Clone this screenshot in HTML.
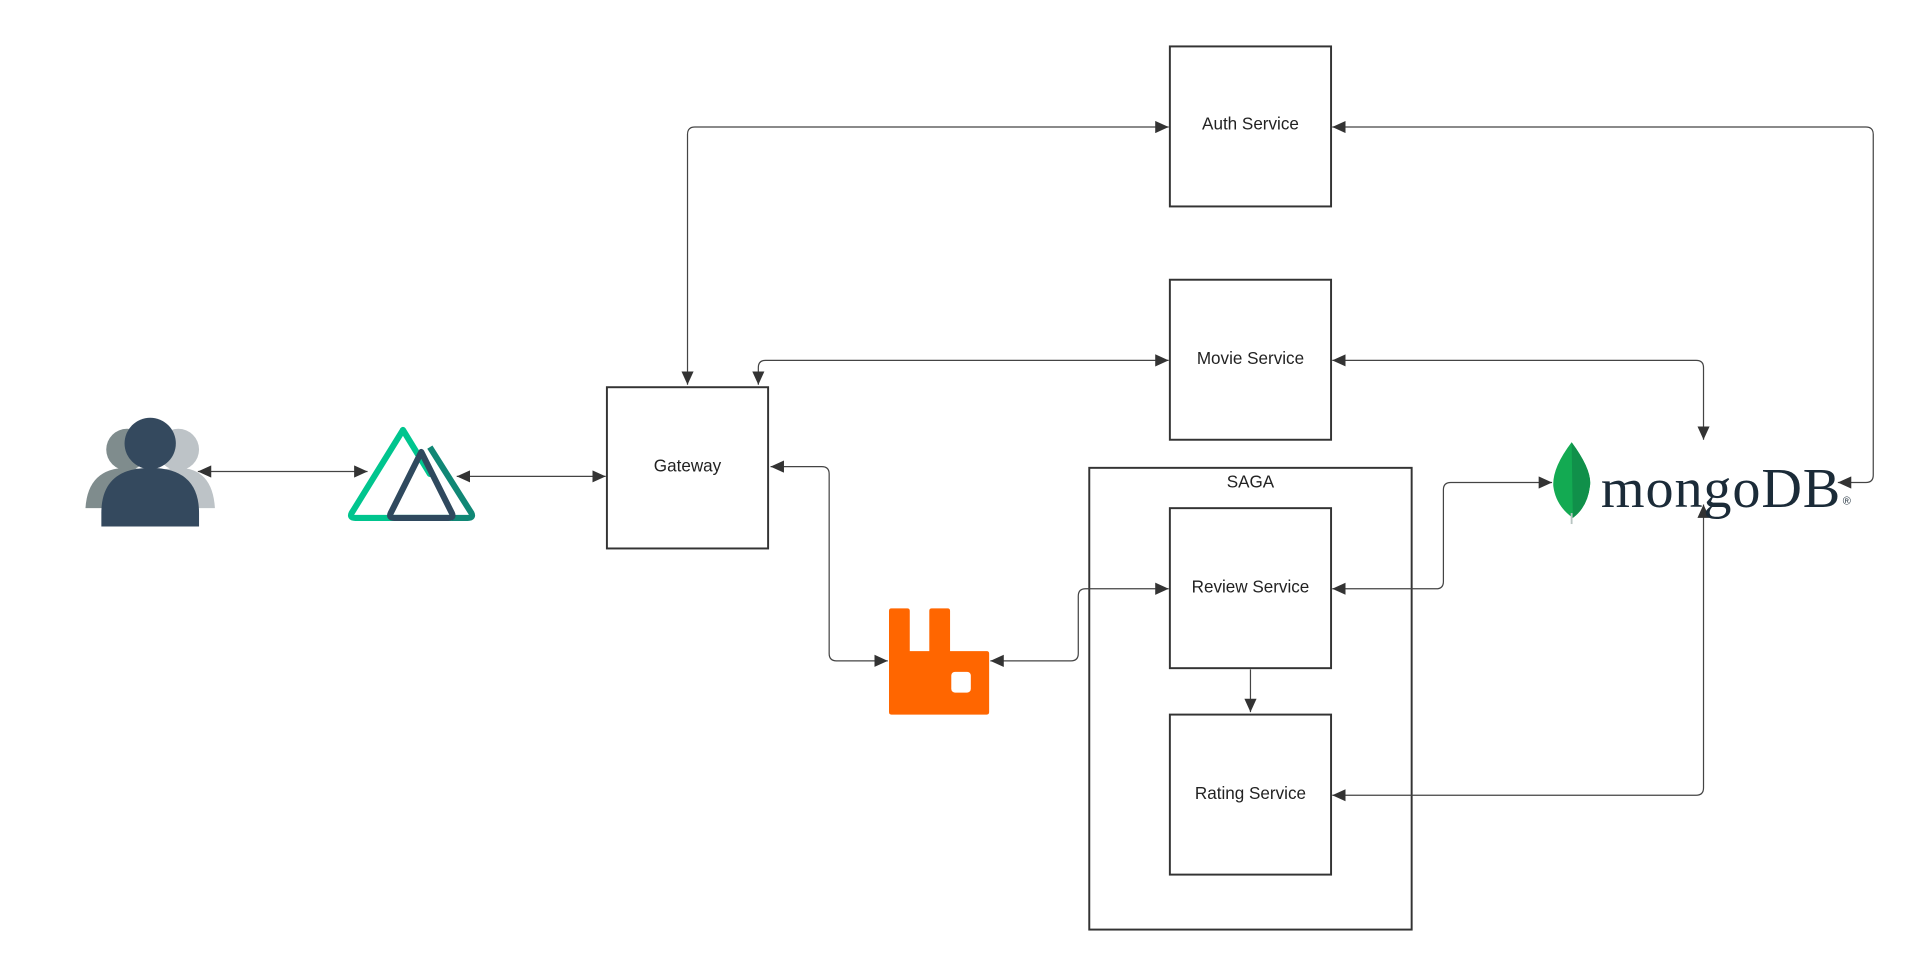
<!DOCTYPE html>
<html><head><meta charset="utf-8"><style>
html,body{margin:0;padding:0;background:#fff;width:1905px;height:965px;overflow:hidden}
text{font-family:"Liberation Sans",sans-serif;fill:#222}
</style></head><body>
<svg width="1905" height="965" viewBox="0 0 1560 790" preserveAspectRatio="none" xmlns="http://www.w3.org/2000/svg">
<defs>
<marker id="a" markerWidth="12" markerHeight="10" refX="11" refY="5" orient="auto-start-reverse" markerUnits="userSpaceOnUse">
<path d="M0,0 L11,5 L0,10 z" fill="#333"/></marker>
</defs>
<g fill="none" stroke="#333" stroke-width="1.6">
<rect x="958" y="38" width="132" height="131"/>
<rect x="958" y="229" width="132" height="131"/>
<rect x="497" y="317" width="132" height="132"/>
<rect x="892" y="383" width="264" height="378"/>
<rect x="958" y="416" width="132" height="131"/>
<rect x="958" y="585" width="132" height="131"/>
</g>
<g font-size="14" text-anchor="middle">
<text x="1024" y="106">Auth Service</text>
<text x="1024" y="298">Movie Service</text>
<text x="563" y="386">Gateway</text>
<text x="1024" y="399">SAGA</text>
<text x="1024" y="485">Review Service</text>
<text x="1024" y="654">Rating Service</text>
</g>
<g fill="none" stroke="#444" stroke-width="1" marker-start="url(#a)" marker-end="url(#a)">
<path d="M162,386 H301"/>
<path d="M374,390 H496"/>
<path d="M563,315 V110 Q563,104 569,104 H957"/>
<path d="M621,315 V301 Q621,295 627,295 H957"/>
<path d="M631,382 H673 Q679,382 679,388 V535 Q679,541 685,541 H727"/>
<path d="M811,541 H877 Q883,541 883,535 V488 Q883,482 889,482 H957"/>
<path d="M1091,482 H1176 Q1182,482 1182,476 V401 Q1182,395 1188,395 H1271"/>
<path d="M1091,295 H1389 Q1395,295 1395,301 V360"/>
<path d="M1091,104 H1528 Q1534,104 1534,110 V389 Q1534,395 1528,395 H1505"/>
<path d="M1091,651 H1389 Q1395,651 1395,645 V413"/>
<path d="M1024,548 V583" marker-start="none"/>
</g>
<!-- users -->
<circle cx="104" cy="368" r="17" fill="#7f8c8d"/>
<path d="M70,416 Q72,383 104,383 Q134,383 136,416 Z" fill="#7f8c8d"/>
<circle cx="146" cy="368" r="17" fill="#bdc3c7"/>
<path d="M112,416 Q114,383 146,383 Q174,383 176,416 Z" fill="#bdc3c7"/>
<circle cx="123" cy="363" r="21" fill="#34495e"/>
<path d="M83,431 V420 Q83,383 123,383 Q163,383 163,420 V431 Z" fill="#34495e"/>
<!-- nuxt -->
<path d="M330,352 L288,420 Q286,424 291,424 H372" fill="none" stroke="#00c58e" stroke-width="5" stroke-linejoin="round"/>
<path d="M330,352 L352,388" fill="none" stroke="#00c58e" stroke-width="5" stroke-linecap="round"/>
<path d="M352,366 L386,420 Q388,424 383,424 H370" fill="none" stroke="#108775" stroke-width="5" stroke-linejoin="round"/>
<path d="M345,370 L320,420 Q318,424 323,424 H367 Q372,424 370,420 Z" fill="none" stroke="#2f495e" stroke-width="5" stroke-linejoin="round"/>
<!-- rabbitmq -->
<path d="M728,500 Q728,498 730,498 H743 Q745,498 745,500 V533 H761 V500 Q761,498 763,498 H776 Q778,498 778,500 V533 H808 Q810,533 810,535 V583 Q810,585 808,585 H730 Q728,585 728,583 Z" fill="#ff6600"/>
<rect x="779" y="550" width="16" height="17" rx="3" fill="#fff"/>
<!-- mongo -->
<path d="M1287,362 Q1304,385 1302,398 Q1300,415 1288,424 Q1274,414 1272,398 Q1271,383 1287,362 Z" fill="#13aa52"/>
<path d="M1287,362 Q1304,385 1302,398 Q1300,415 1288,424 Z" fill="#10904a"/>
<path d="M1287,420 V429" stroke="#b8c4c2" stroke-width="1.5"/>
<text x="1311" y="415" font-family="Liberation Serif,serif" font-size="46" style="font-family:'Liberation Serif',serif;fill:#1b2b38" textLength="196">mongoDB</text>
<text x="1509" y="413" font-size="9" style="fill:#1b2b38">®</text>
</svg>
</body></html>
